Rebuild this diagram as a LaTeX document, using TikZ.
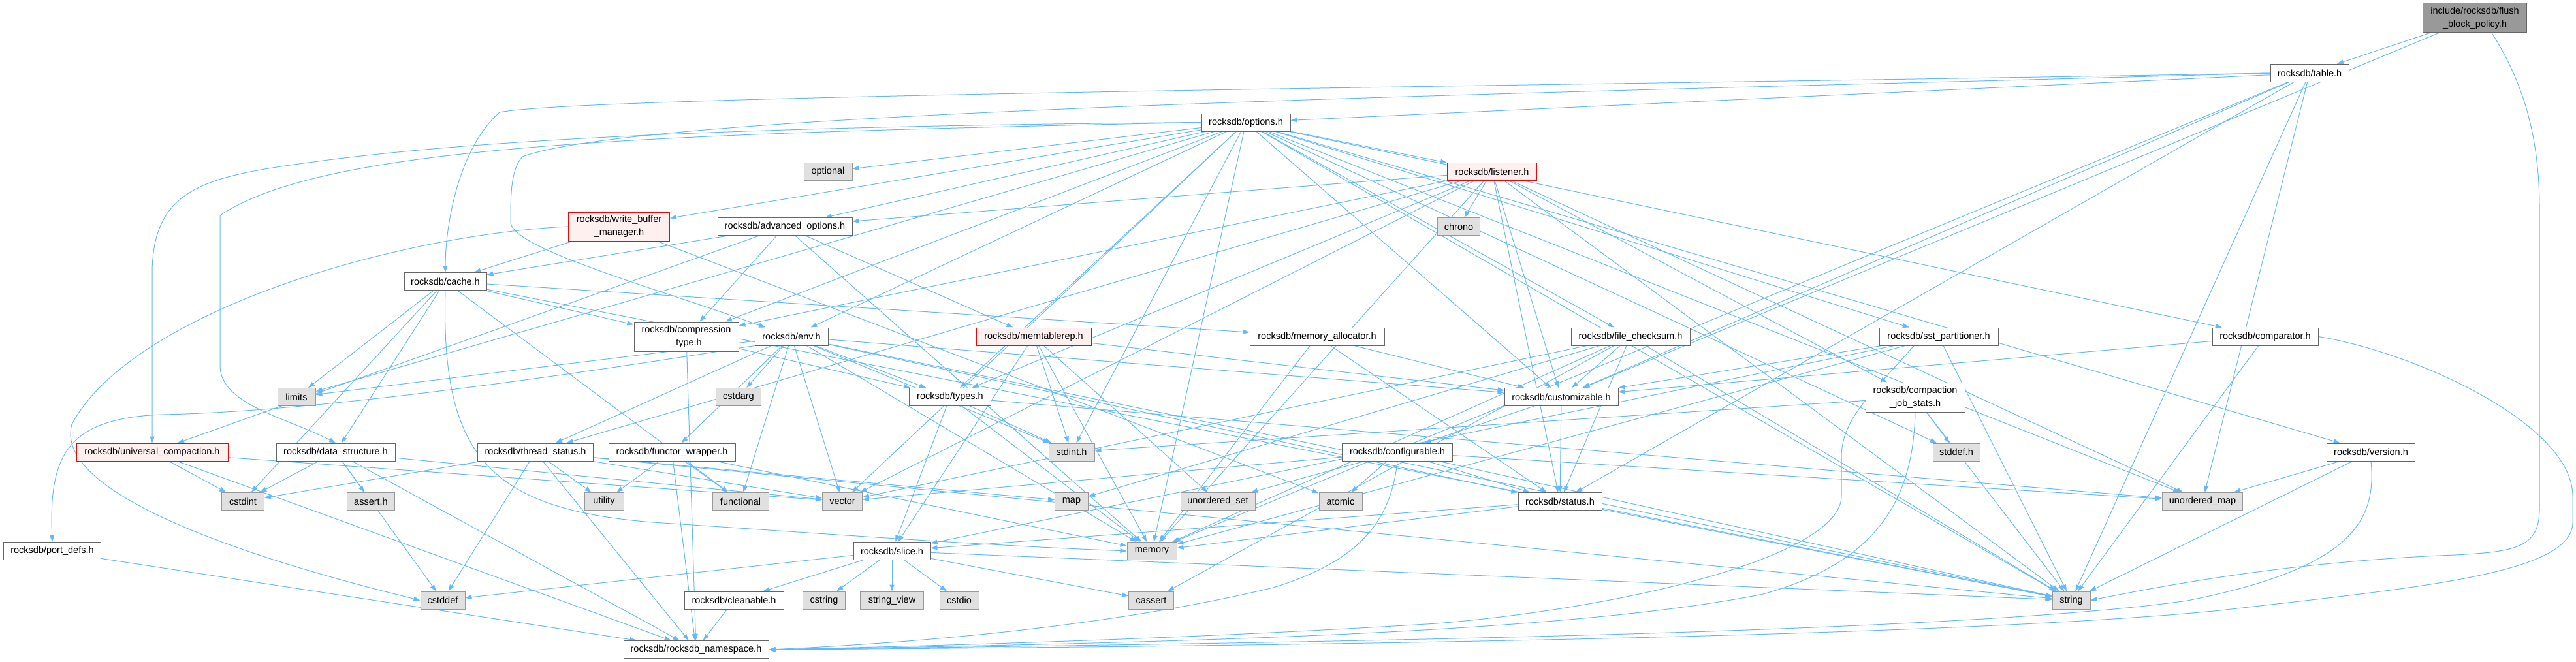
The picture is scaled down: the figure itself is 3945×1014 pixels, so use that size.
\documentclass[tikz,border=0pt]{standalone}
\usepackage{fontspec}
\setmainfont{Liberation Sans}
\usetikzlibrary{arrows.meta}
\definecolor{edgec}{HTML}{63B8FF}
\definecolor{bordn}{HTML}{666666}
\definecolor{bordg}{HTML}{999999}
\definecolor{fillg}{HTML}{E0E0E0}
\definecolor{fillr}{HTML}{FFF0F0}
\definecolor{fillm}{HTML}{999999}
\pgfdeclarelayer{bg}
\pgfsetlayers{bg,main}
\tikzset{
  nbox/.style={draw=bordn, fill=white, line width=1pt, minimum height=27pt, inner sep=2pt, align=center, font=\fontsize{14.5}{20}\selectfont},
  gbox/.style={nbox, draw=bordg, fill=fillg},
  rbox/.style={nbox, draw=red, fill=fillr},
  mbox/.style={nbox, fill=fillm},
  dep/.style={draw=edgec, line width=1pt, -{Triangle[length=10pt,width=7pt]}},
}
\begin{document}
\begin{tikzpicture}[x=1pt,y=-1pt]
\useasboundingbox (0,0) rectangle (3945,1014);
% nodes
\node[mbox, minimum width=159pt, minimum height=45pt] (flush) at (3790,27.5) {include/rocksdb/flush\\\_block\_policy.h};
\node[nbox, minimum width=120pt] (table) at (3537,112) {rocksdb/table.h};
\node[nbox, minimum width=136pt] (options) at (1908,187.5) {rocksdb/options.h};
\node[gbox, minimum width=74pt] (optional) at (1268,263) {optional};
\node[rbox, minimum width=137pt] (listener) at (2285,263) {rocksdb/listener.h};
\node[gbox, minimum width=65pt] (chrono) at (2234,347) {chrono};
\node[rbox, minimum width=155pt, minimum height=44pt] (wbm) at (948,347) {rocksdb/write\_buffer\\\_manager.h};
\node[nbox, minimum width=206pt] (advopt) at (1202,347) {rocksdb/advanced\_options.h};
\node[nbox, minimum width=126pt] (cache) at (682,431) {rocksdb/cache.h};
\node[nbox, minimum width=160pt, minimum height=45pt] (comptype) at (1051,515.5) {rocksdb/compression\\\_type.h};
\node[nbox, minimum width=112pt] (env) at (1212,515.5) {rocksdb/env.h};
\node[rbox, minimum width=176pt] (memtablerep) at (1583,515.5) {rocksdb/memtablerep.h};
\node[nbox, minimum width=206pt] (memalloc) at (2017,515.5) {rocksdb/memory\_allocator.h};
\node[nbox, minimum width=182pt] (filecks) at (2497,515.5) {rocksdb/file\_checksum.h};
\node[nbox, minimum width=182pt] (sstpart) at (2969,515.5) {rocksdb/sst\_partitioner.h};
\node[nbox, minimum width=162pt] (comparator) at (3469,515.5) {rocksdb/comparator.h};
\node[gbox, minimum width=58pt] (limits) at (454,608) {limits};
\node[nbox, minimum width=174pt] (customizable) at (2391,608) {rocksdb/customizable.h};
\node[nbox, minimum width=125pt] (types) at (1455,608) {rocksdb/types.h};
\node[gbox, minimum width=69pt] (cstdarg) at (1131,608) {cstdarg};
\node[nbox, minimum width=152pt, minimum height=45pt] (cjs) at (2933,608.5) {rocksdb/compaction\\\_job\_stats.h};
\node[rbox, minimum width=232pt] (univ) at (233,692.5) {rocksdb/universal\_compaction.h};
\node[nbox, minimum width=182pt] (datastruct) at (514,692.5) {rocksdb/data\_structure.h};
\node[nbox, minimum width=177pt] (threadstatus) at (820,692.5) {rocksdb/thread\_status.h};
\node[nbox, minimum width=194pt] (functor) at (1029,692.5) {rocksdb/functor\_wrapper.h};
\node[gbox, minimum width=70pt] (stdinth) at (1641,692.5) {stdint.h};
\node[nbox, minimum width=169pt] (configurable) at (2140,692.5) {rocksdb/configurable.h};
\node[gbox, minimum width=72pt] (stddefh) at (2996,692.5) {stddef.h};
\node[nbox, minimum width=135pt] (version) at (3631,692.5) {rocksdb/version.h};
\node[gbox, minimum width=65pt] (cstdint) at (372,768) {cstdint};
\node[gbox, minimum width=73pt] (asserth) at (568,768) {assert.h};
\node[gbox, minimum width=60pt] (utility) at (925,768) {utility};
\node[gbox, minimum width=86pt] (functional) at (1134,768) {functional};
\node[gbox, minimum width=61pt] (vector) at (1290,768) {vector};
\node[gbox, minimum width=51pt] (map) at (1641,768) {map};
\node[gbox, minimum width=114pt] (unordset) at (1865,768) {unordered\_set};
\node[gbox, minimum width=66pt] (atomic) at (2053,768) {atomic};
\node[nbox, minimum width=128pt] (status) at (2389,768) {rocksdb/status.h};
\node[gbox, minimum width=123pt] (unordmap) at (3373,768) {unordered\_map};
\node[nbox, minimum width=149pt] (portdefs) at (80,844) {rocksdb/port\_defs.h};
\node[nbox, minimum width=118pt] (slice) at (1366,844) {rocksdb/slice.h};
\node[gbox, minimum width=76pt] (memory) at (1764,844) {memory};
\node[gbox, minimum width=68pt] (cstddef) at (678,919.5) {cstddef};
\node[nbox, minimum width=152pt] (cleanable) at (1124,919.5) {rocksdb/cleanable.h};
\node[gbox, minimum width=65pt] (cstring) at (1262,919.5) {cstring};
\node[gbox, minimum width=97pt] (stringview) at (1366,919.5) {string\_view};
\node[gbox, minimum width=60pt] (cstdio) at (1469,919.5) {cstdio};
\node[gbox, minimum width=69pt] (cassert) at (1763,919.5) {cassert};
\node[gbox, minimum width=58pt] (string) at (3172,919.5) {string};
\node[nbox, minimum width=222pt] (namespace) at (1066,995) {rocksdb/rocksdb\_namespace.h};
% edges
\begin{pgfonlayer}{bg}
% routed edges
\draw[dep] ([xshift=26pt]flush.south) .. controls (3860,120) and (3889,200) .. (3889,320) -- (3889,780) .. controls (3889,840) and (3850,845) .. (3760,850) .. controls (3500,860) and (3300,900) .. (string.east);
\draw[dep] (comparator.east) .. controls (3700,540) and (3940,650) .. (3940,760) -- (3940,800) .. controls (3940,880) and (3700,900) .. (3400,935) .. controls (3000,975) and (2000,990) .. (namespace.east);
\draw[dep] (version.south) .. controls (3640,800) and (3600,870) .. (3350,920) .. controls (3000,970) and (2000,985) .. (namespace.east);
\draw[dep] (cjs.south) .. controls (2930,760) and (2880,860) .. (2700,910) .. controls (2400,970) and (1800,985) .. (namespace.east);
\draw[dep] ([xshift=-38pt]sstpart.south) .. controls (2870,600) and (2820,640) .. (2820,700) -- (2820,760) .. controls (2820,850) and (2500,930) .. (2200,955) .. controls (1800,980) and (1400,990) .. (namespace.east);
\draw[dep] (configurable.south) .. controls (2130,800) and (2080,860) .. (1950,900) .. controls (1700,960) and (1400,985) .. (namespace.east);
\draw[dep] (options.west) .. controls (900,195) and (600,230) .. (430,255) .. controls (300,275) and (233,300) .. (233,420) -- (univ.north);
\draw[dep] (options.west) .. controls (1000,205) and (500,220) .. (337,330) -- (337,560) .. controls (337,620) and (440,640) .. (datastruct.north);
\draw[dep] (table.west) .. controls (2500,130) and (900,145) .. (765,172) .. controls (700,230) and (682,350) .. (cache.north);
\draw[dep] (table.west) .. controls (2500,140) and (1000,165) .. (800,240) .. controls (782,260) and (782,300) .. (782,340) .. controls (782,380) and (1000,440) .. ([xshift=-40pt]env.north);
\draw[dep] (env.south west) .. controls (900,570) and (500,630) .. (250,635) .. controls (100,640) and (75,700) .. (portdefs.north);
\draw[dep] (wbm.west) .. controls (600,360) and (200,480) .. (110,650) .. controls (80,760) and (400,860) .. (cstddef.west);
\draw[dep] (cache.south) .. controls (675,700) and (750,780) .. (1000,800) .. controls (1300,820) and (1500,835) .. (memory.west);
% straight edges
\foreach \t in {table,customizable} \draw[dep] (flush) -- (\t);
\foreach \t in {options,customizable,status,memory,string,unordmap} \draw[dep] (table) -- (\t);
\foreach \t in {advopt,comparator,comptype,customizable,env,filecks,listener,sstpart,types,version,wbm,stddefh,stdinth,limits,memory,optional,string,unordmap,vector} \draw[dep] (options) -- (\t);
\foreach \t in {advopt,cjs,comptype,customizable,status,threadstatus,types,chrono,memory,string,unordmap,vector} \draw[dep] (listener) -- (\t);
\foreach \t in {cache,atomic} \draw[dep] (wbm) -- (\t);
\foreach \t in {cache,comptype,memtablerep,univ,memory} \draw[dep] (advopt) -- (\t);
\foreach \t in {comptype,datastruct,memalloc,cstdint,functional,limits,string} \draw[dep] (cache) -- (\t);
\foreach \t in {types,namespace} \draw[dep] (comptype) -- (\t);
\foreach \t in {customizable,functor,status,threadstatus,cstdarg,functional,limits,memory,string,vector,stdinth,types} \draw[dep] (env) -- (\t);
\foreach \t in {customizable,slice,memory,stdinth,unordset} \draw[dep] (memtablerep) -- (\t);
\foreach \t in {customizable,status,memory} \draw[dep] (memalloc) -- (\t);
\foreach \t in {customizable,status,cassert,map,memory,string,vector} \draw[dep] (filecks) -- (\t);
\foreach \t in {customizable,slice,memory,string} \draw[dep] (sstpart) -- (\t);
\foreach \t in {customizable,string} \draw[dep] (comparator) -- (\t);
\foreach \t in {configurable,status} \draw[dep] (customizable) -- (\t);
\foreach \t in {slice,stdinth,memory,unordmap} \draw[dep] (types) -- (\t);
\foreach \t in {stddefh,stdinth,string} \draw[dep] (cjs) -- (\t);
\foreach \t in {cstdint,vector,namespace} \draw[dep] (univ) -- (\t);
\foreach \t in {asserth,cstddef,cstdint,vector,namespace} \draw[dep] (datastruct) -- (\t);
\foreach \t in {cstdint,cstddef,map,string,utility,vector,namespace} \draw[dep] (threadstatus) -- (\t);
\foreach \t in {functional,memory,utility,namespace} \draw[dep] (functor) -- (\t);
\foreach \t in {atomic,string,unordmap,unordset,vector,status} \draw[dep] (configurable) -- (\t);
\foreach \t in {string,unordmap} \draw[dep] (version) -- (\t);
\foreach \t in {memory,string,slice} \draw[dep] (status) -- (\t);
\foreach \t in {cleanable,cstring,stringview,cstdio,cassert,string,cstddef} \draw[dep] (slice) -- (\t);
\draw[dep] (cleanable) -- (namespace);
\draw[dep] (portdefs) -- (namespace);
\end{pgfonlayer}
\end{tikzpicture}
\end{document}
